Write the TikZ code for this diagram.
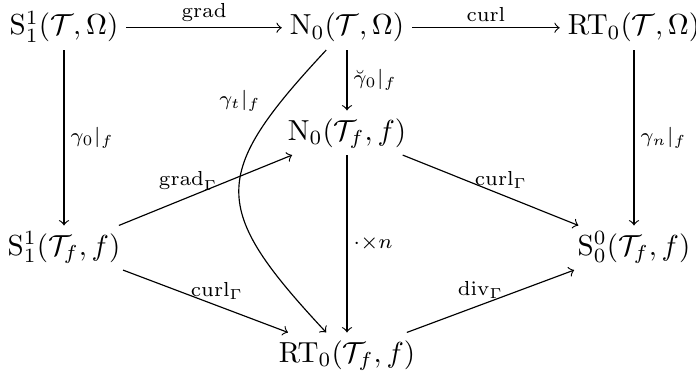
\documentclass[tikz,border=0pt]{standalone}
\usepackage{amsmath}
\usepackage{tikz}
\usetikzlibrary{arrows}
\usetikzlibrary{positioning}
\tikzset{
  space_node/.style = {anchor=base, inner xsep=2.6pt, inner ysep=2pt,
    text height=8pt, text depth=3pt},% espace discret
  map_label/.style = {font=\scriptsize, inner sep=2pt},% nom de l'operateur
  map_arrow/.style = {->, >=to}% fleche du diagramme
}

\begin{document}
\begin{tikzpicture}[x=0.345pt, y=0.345pt]
  \useasboundingbox (0,0) rectangle (696,-372);
  \node [space_node] (s1)  at (64,-35)   {$\mathrm{S}_1^1(\mathcal{T},\Omega)$};
  \node [space_node] (n0)  at (347,-35)  {$\mathrm{N}_0(\mathcal{T},\Omega)$};
  \node [space_node] (rt)  at (634,-35)  {$\mathrm{RT}_0(\mathcal{T},\Omega)$};
  \node [space_node] (n0f) at (347,-140) {$\mathrm{N}_0(\mathcal{T}_f,f)$};
  \node [space_node] (s1f) at (64,-255)  {$\mathrm{S}_1^1(\mathcal{T}_f,f)$};
  \node [space_node] (s0f) at (634,-255) {$\mathrm{S}_0^0(\mathcal{T}_f,f)$};
  \node [space_node] (rtf) at (347,-362) {$\mathrm{RT}_0(\mathcal{T}_f,f)$};
  % ligne du haut
  \draw [map_arrow] (s1) -- node [map_label, above] {$\mathrm{grad}$} (n0);
  \draw [map_arrow] (n0) -- node [map_label, above] {$\mathrm{curl}$} (rt);
  % traces
  \draw [map_arrow] (s1) -- node [map_label, right] {$\gamma_0|_f$} (s1f);
  \draw [map_arrow] (n0) -- node [map_label, right] {$\breve{\gamma}_0|_f$} (n0f);
  \draw [map_arrow] (rt) -- node [map_label, right] {$\gamma_n|_f$} (s0f);
  \draw [map_arrow] (n0) to [out=227, in=133, looseness=1.55]
    node [map_label, pos=0.15, left=5pt] {$\gamma_t|_f$} (rtf);
  % complexe sur la face
  \draw [map_arrow] (s1f) -- node [map_label, above, pos=0.4] {$\mathrm{grad}_\Gamma$} (n0f);
  \draw [map_arrow] (s1f) -- node [map_label, above, pos=0.57] {$\mathrm{curl}_\Gamma$} (rtf);
  \draw [map_arrow] (n0f) -- node [map_label, above, pos=0.56] {$\mathrm{curl}_\Gamma$} (s0f);
  \draw [map_arrow] (n0f) -- node [map_label, right] {${\cdot}{\times}n$} (rtf);
  \draw [map_arrow] (rtf) -- node [map_label, above, pos=0.44] {$\mathrm{div}_\Gamma$} (s0f);
\end{tikzpicture}
\end{document}
